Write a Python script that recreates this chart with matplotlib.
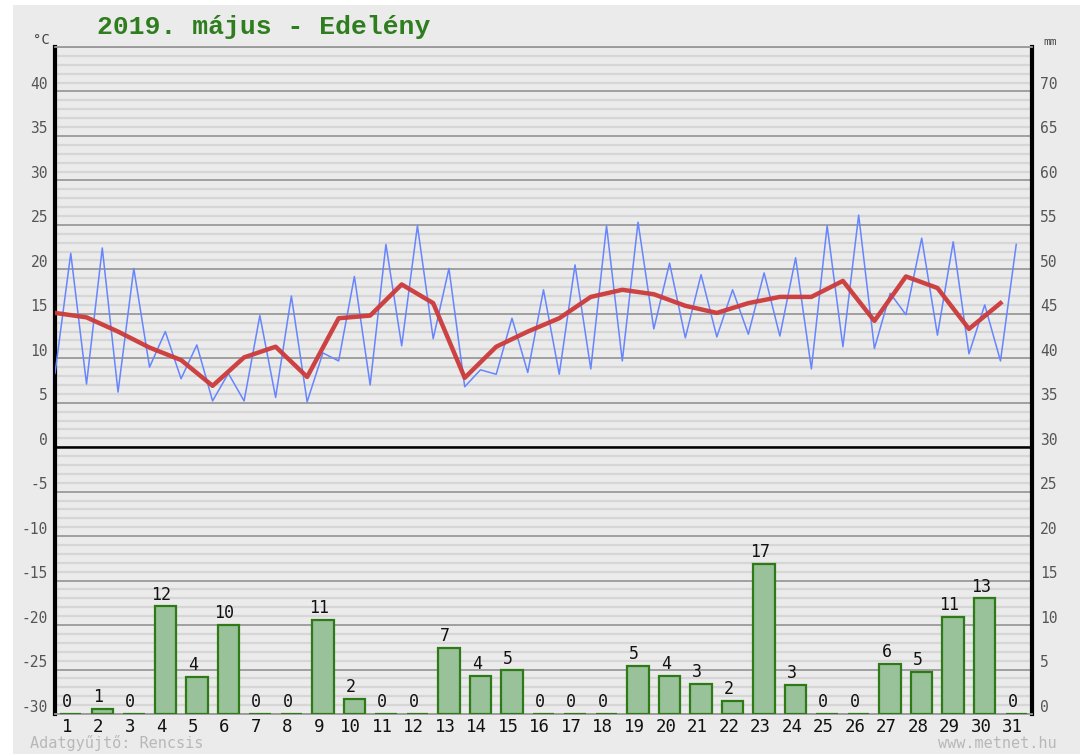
import matplotlib
matplotlib.use('Agg')
import matplotlib.pyplot as plt
import numpy as np
from matplotlib.ticker import MultipleLocator
from matplotlib.patches import Rectangle

# Data (May 2019, Edelény)
days = list(range(1, 32))
temp_low = [8.3, 7.1, 6.2, 9.0, 7.7, 5.2, 5.2, 5.6, 5.1, 9.7, 7.0, 11.4, 12.2, 6.8, 8.2, 8.4,
            8.2, 8.8, 9.7, 13.3, 12.3, 12.4, 12.7, 12.5, 8.8, 11.3, 11.1, 14.9, 12.6, 10.5, 9.7]
temp_high = [21.8, 22.4, 20.1, 13.0, 11.5, 8.3, 14.8, 17.0, 10.6, 19.2, 22.8, 24.9, 20.1, 8.7, 14.5, 17.7,
             20.5, 24.9, 25.3, 20.7, 19.4, 17.7, 19.6, 21.3, 24.9, 26.1, 17.3, 23.5, 23.1, 16.0, 22.8]
temp_mean = [15.1, 14.6, 13.0, 11.2, 9.8, 6.9, 10.1, 11.3, 7.9, 14.5, 14.8, 18.3, 16.2, 7.8, 11.3, 13.0,
             14.5, 16.9, 17.7, 17.2, 15.9, 15.1, 16.2, 16.9, 16.9, 18.7, 14.2, 19.2, 17.9, 13.3, 16.2]
precip_mm = [0, 0.6, 0, 12.1, 4.2, 10.0, 0, 0, 10.6, 1.7, 0, 0, 7.4, 4.3, 4.9, 0,
             0, 0, 5.4, 4.3, 3.4, 1.5, 16.9, 3.3, 0, 0, 5.6, 4.7, 10.9, 13.0, 0]
precip_labels = [0, 1, 0, 12, 4, 10, 0, 0, 11, 2, 0, 0, 7, 4, 5, 0,
                 0, 0, 5, 4, 3, 2, 17, 3, 0, 0, 6, 5, 11, 13, 0]

BG = '#ebebeb'
MONO = 'DejaVu Sans Mono'

fig = plt.figure(figsize=(10.8, 7.54), dpi=100, facecolor='white')
fig.patches.append(Rectangle((13 / 1080, 0), 1, 1 - 5 / 754, transform=fig.transFigure,
                             facecolor=BG, edgecolor='none', zorder=-10))

W, H = 1080, 754
ax = fig.add_axes([55 / W, 1 - 714 / H, (1032 - 55) / W, (714 - 47) / H])
ax.set_facecolor(BG)
ax.set_xlim(0, 31)
ax.set_ylim(-30, 45)

# grid
ax.yaxis.set_major_locator(MultipleLocator(5))
ax.yaxis.set_minor_locator(MultipleLocator(1))
ax.grid(which='minor', axis='y', color='#d6d6d6', lw=1.6)
ax.grid(which='major', axis='y', color='#9a9a9a', lw=1.3)
ax.set_axisbelow(True)
ax.axhline(0, color='black', lw=1.8, zorder=2)

for s in ['left', 'right']:
    ax.spines[s].set_color('black')
    ax.spines[s].set_linewidth(3)
for s in ['top', 'bottom']:
    ax.spines[s].set_color('#9a9a9a')
    ax.spines[s].set_linewidth(1.3)

ax.tick_params(axis='y', which='both', length=0, labelleft=False)
ax.set_yticklabels([])

# temperature lines
c = np.arange(31)
x_half = np.ravel(np.column_stack([c, c + 0.5]))
t_half = np.ravel(np.column_stack([temp_low, temp_high]))
ax.plot(x_half, t_half, color='#6685ff', lw=1.1, zorder=3)
ax.plot(c, temp_mean, color='#cc3a3a', lw=3.2, alpha=0.95, zorder=4, solid_joinstyle='round')

# precipitation on secondary axis (mm)
ax2 = ax.twinx()
ax2.set_ylim(0, 75)
ax2.set_xlim(0, 31)
ax2.bar(c + 0.5, precip_mm, width=0.68, color='#99c29b', edgecolor='#2e7a16', lw=1.6, zorder=3)
for xi, h, lab in zip(c + 0.5, precip_mm, precip_labels):
    ax2.annotate(str(lab), (xi - 0.12, h), xytext=(0, 2), textcoords='offset points',
                 ha='center', va='bottom', fontsize=12, family=MONO, color='#111111')
ax2.tick_params(axis='y', length=0, labelright=False)
for s in ax2.spines.values():
    s.set_visible(False)

# day labels
ax.set_xticks(c + 0.5 - 0.12)
ax.set_xticklabels([str(d) for d in days], fontsize=12.5, family=MONO, color='#111111')
ax.tick_params(axis='x', length=0, pad=3)

# y labels (drawn just above their gridlines)
for v in range(-30, 45, 5):
    ax.annotate(str(v), (0, v), xycoords=('axes fraction', 'data'), xytext=(-5, 5),
                textcoords='offset points', ha='right', va='center', fontsize=10.5,
                family=MONO, color='#555555')
    ax.annotate(str(v + 30), (1, v), xycoords=('axes fraction', 'data'), xytext=(6, 5),
                textcoords='offset points', ha='left', va='center', fontsize=10.5,
                family=MONO, color='#555555')

fig.text(41 / W, 1 - 40 / H, '°C', fontsize=10, family=MONO, color='#444444', ha='center', va='center')
fig.text(1050 / W, 1 - 42 / H, 'mm', fontsize=8, family=MONO, color='#444444', ha='center', va='center')

fig.text(97 / W, 1 - 27 / H, '2019. május - Edelény', fontsize=19, family='Liberation Mono',
         fontweight='bold', color='#2e7d1e', ha='left', va='center')
fig.text(30 / W, 1 - 743 / H, 'Adatgyűjtő: Rencsis', fontsize=11, family=MONO,
         color='#b8b8b8', ha='left', va='center')
fig.text(1057 / W, 1 - 743 / H, 'www.metnet.hu', fontsize=11, family=MONO,
         color='#b8b8b8', ha='right', va='center')

fig.savefig('out.png', dpi=100, facecolor=fig.get_facecolor())
